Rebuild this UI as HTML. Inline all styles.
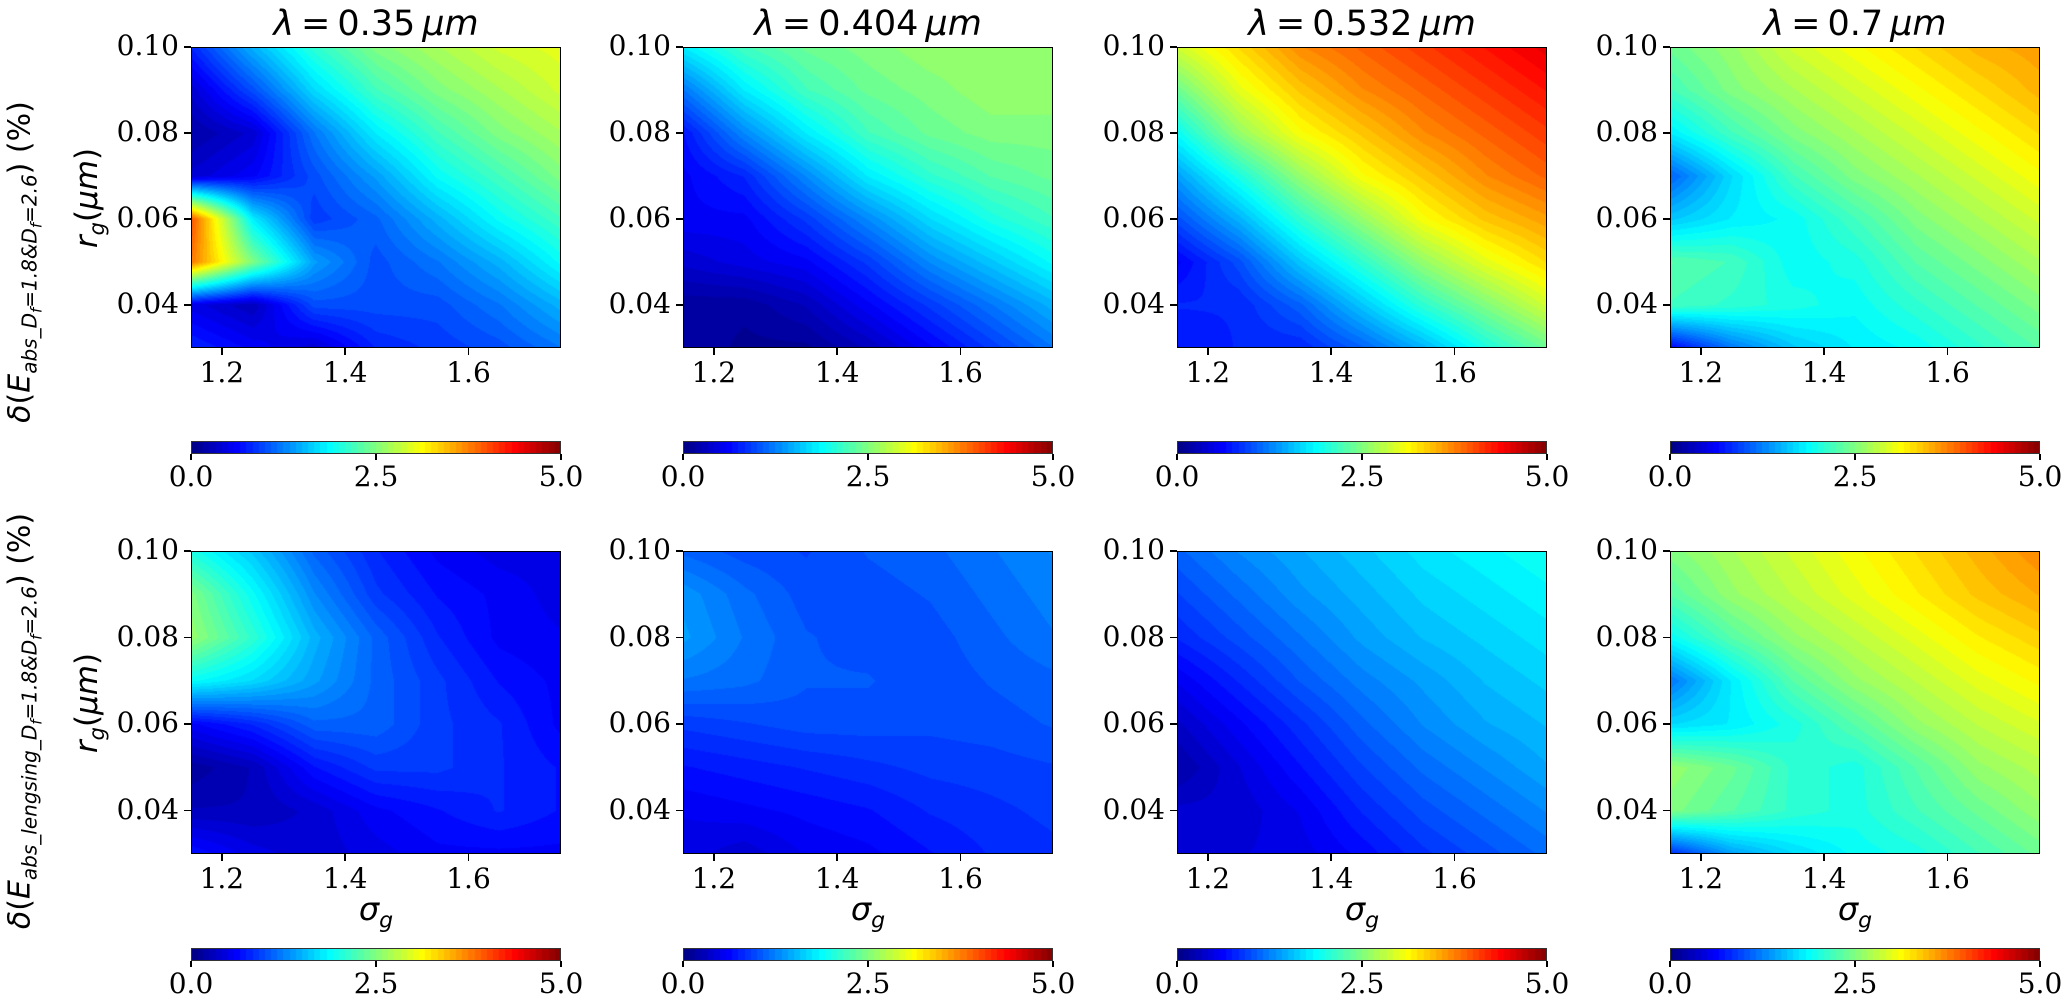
<!DOCTYPE html>
<html><head><meta charset="utf-8"><style>
body{margin:0;background:#fff;}
#root{position:relative;width:2066px;height:998px;overflow:hidden;background:#fff;font-family:"DejaVu Serif",serif;}
.tick{position:absolute;background:#000;}
.tl{position:absolute;font-family:"DejaVu Serif","Liberation Serif",serif;font-size:28px;color:#000;white-space:nowrap;line-height:1;}
.title{position:absolute;font-family:"DejaVu Sans",sans-serif;font-size:35px;white-space:nowrap;line-height:1;transform:translateX(-50%);}
.rot{position:absolute;transform:translate(-50%,-50%) rotate(-90deg);white-space:nowrap;font-family:"DejaVu Sans",sans-serif;line-height:1;}
canvas{position:absolute;}
.frame{position:absolute;border:1.5px solid #000;box-sizing:border-box;}
</style></head><body>
<div id="root"></div>
<script>
// ---- data ----
const sigmaGrid = [1.15, 1.25, 1.35, 1.45, 1.55, 1.65, 1.75];
const rGrid = [0.10, 0.09, 0.08, 0.07, 0.06, 0.05, 0.04, 0.03];
const titles = ["0.35", "0.404", "0.532", "0.7"];
const xTicks = [1.2, 1.4, 1.6];
const xTickLabels = ["1.2", "1.4", "1.6"];
const yTicks = [0.10, 0.08, 0.06, 0.04];
const yTickLabels = ["0.10", "0.08", "0.06", "0.04"];
const cbTicks = [0, 2.5, 5];
const cbTickLabels = ["0.0", "2.5", "5.0"];
const absP1 = [
[0.8,1.5,2.1,2.5,2.7,2.9,3.0],
[0.4,1.0,1.7,2.2,2.5,2.7,2.9],
[0.2,0.4,1.2,1.8,2.2,2.5,2.7],
[0.4,0.6,1.0,1.4,1.9,2.2,2.5],
[4.0,1.8,0.9,1.1,1.5,1.9,2.2],
[3.8,2.5,1.4,1.0,1.2,1.5,1.9],
[0.5,0.3,1.0,1.0,1.0,1.2,1.5],
[0.8,0.6,0.4,0.8,0.9,1.0,1.2]];
const absP2 = [
[1.8,2.2,2.4,2.5,2.6,2.6,2.6],
[1.2,1.8,2.2,2.4,2.5,2.6,2.6],
[0.7,1.3,1.8,2.2,2.4,2.5,2.5],
[0.6,0.8,1.3,1.8,2.1,2.3,2.4],
[0.6,0.6,0.9,1.3,1.7,2.0,2.2],
[0.4,0.5,0.6,0.9,1.3,1.6,1.9],
[0.15,0.15,0.3,0.6,0.9,1.2,1.5],
[0.2,0.1,0.1,0.3,0.6,0.9,1.2]];
const absP3 = [
[2.9,3.3,3.7,3.9,4.1,4.3,4.5],
[2.4,3.0,3.4,3.7,3.9,4.1,4.3],
[1.9,2.6,3.1,3.4,3.7,3.9,4.1],
[1.4,2.0,2.6,3.1,3.4,3.7,3.9],
[1.0,1.5,2.1,2.6,3.1,3.4,3.6],
[0.6,1.0,1.6,2.1,2.6,3.0,3.3],
[0.8,0.8,1.1,1.6,2.1,2.5,2.9],
[0.7,0.8,0.8,1.1,1.5,2.0,2.4]];
const absP4 = [
[2.4,2.6,2.9,3.1,3.3,3.5,3.6],
[2.2,2.5,2.7,2.9,3.1,3.3,3.5],
[1.8,2.2,2.5,2.7,2.9,3.1,3.3],
[1.1,1.7,2.2,2.5,2.7,2.9,3.1],
[1.6,1.8,1.9,2.2,2.5,2.7,2.9],
[2.3,2.2,1.9,2.0,2.3,2.5,2.7],
[2.2,2.1,2.0,1.9,2.1,2.3,2.5],
[0.6,1.2,1.6,1.8,1.9,2.1,2.3]];
const lensP1 = [
[2.0,1.6,1.1,0.8,0.6,0.5,0.5],
[2.5,1.9,1.3,0.9,0.7,0.6,0.5],
[2.6,2.1,1.5,1.1,0.8,0.6,0.55],
[1.9,1.7,1.4,1.1,0.9,0.7,0.6],
[0.6,0.8,1.1,1.1,0.9,0.8,0.6],
[0.15,0.3,0.7,0.9,0.9,0.8,0.7],
[0.3,0.3,0.4,0.6,0.7,0.8,0.7],
[0.7,0.5,0.4,0.5,0.6,0.6,0.6]];
const lensP2 = [
[1.1,1.0,0.95,1.05,1.1,1.2,1.3],
[1.35,1.15,1.0,1.0,1.05,1.15,1.25],
[1.4,1.2,1.05,1.0,1.0,1.1,1.2],
[1.2,1.15,1.05,1.05,0.98,1.05,1.1],
[0.9,0.95,1.0,1.0,0.98,1.0,1.05],
[0.7,0.75,0.8,0.85,0.9,0.92,0.95],
[0.55,0.6,0.65,0.7,0.8,0.85,0.9],
[0.5,0.4,0.55,0.6,0.7,0.8,0.85]];
const lensP3 = [
[1.1,1.3,1.45,1.6,1.75,1.85,1.95],
[0.95,1.15,1.35,1.5,1.65,1.75,1.85],
[0.8,1.0,1.2,1.4,1.55,1.65,1.75],
[0.55,0.8,1.05,1.25,1.4,1.55,1.65],
[0.35,0.6,0.85,1.1,1.3,1.45,1.55],
[0.2,0.45,0.7,0.95,1.15,1.3,1.45],
[0.4,0.4,0.55,0.8,1.0,1.15,1.3],
[0.45,0.45,0.5,0.65,0.85,1.0,1.15]];
const lensP4 = [
[2.5,2.7,2.9,3.1,3.3,3.5,3.7],
[2.3,2.6,2.8,3.0,3.2,3.4,3.55],
[1.9,2.3,2.6,2.8,3.0,3.2,3.35],
[1.2,1.8,2.3,2.6,2.8,3.0,3.15],
[1.7,1.8,2.0,2.3,2.6,2.8,2.95],
[2.6,2.4,2.1,2.0,2.3,2.6,2.75],
[2.5,2.3,2.1,2.0,2.2,2.4,2.6],
[0.8,1.4,1.7,1.9,2.0,2.2,2.4]];

const panelData = [[absP1,absP2,absP3,absP4],[lensP1,lensP2,lensP3,lensP4]];

// ---- layout ----
const colLeft = [191, 683, 1177, 1670];
const axW = 370;
const rowTop = [47, 551], rowBot = [348, 854];
const cbTop = [441, 948], cbH = 13;
const X0 = 1.15, X1 = 1.75, Y0 = 0.03, Y1 = 0.10, VMAX = 5;

const root = document.getElementById('root');
function xScale(c, s){ return colLeft[c] + (s - X0) / (X1 - X0) * axW; }
function yScale(r, v){ return rowBot[r] - (v - Y0) / (Y1 - Y0) * (rowBot[r] - rowTop[r]); }

function jet(v){
  let t = Math.max(0, Math.min(1, v / VMAX));
  function f(x){ return Math.max(0, Math.min(1, 1.5 - Math.abs(4*t - x))); }
  return [f(3)*255, f(2)*255, f(1)*255];
}
function interp(grid, s, rv){
  let fx = (s - sigmaGrid[0]) / (sigmaGrid[1] - sigmaGrid[0]);
  let fy = (rGrid[0] - rv) / (rGrid[0] - rGrid[1]);
  fx = Math.max(0, Math.min(sigmaGrid.length - 1.0001, fx));
  fy = Math.max(0, Math.min(rGrid.length - 1.0001, fy));
  const i = Math.floor(fy), j = Math.floor(fx);
  const a = fx - j, b = fy - i;
  return grid[i][j]*(1-a)*(1-b) + grid[i][j+1]*a*(1-b) + grid[i+1][j]*(1-a)*b + grid[i+1][j+1]*a*b;
}

function div(cls, name, css, html){
  const d = document.createElement('div');
  d.className = cls;
  
  
  Object.assign(d.style, css);
  if (html !== undefined) d.innerHTML = html;
  root.appendChild(d);
  return d;
}

for (let r = 0; r < 2; r++){
  for (let c = 0; c < 4; c++){
    const L = colLeft[c], T = rowTop[r], H = rowBot[r] - rowTop[r];
    const cv = document.createElement('canvas');
    
    
    cv.width = axW; cv.height = H;
    cv.style.left = L + 'px'; cv.style.top = T + 'px';
    root.appendChild(cv);
    const ctx = cv.getContext('2d');
    const img = ctx.createImageData(axW, H);
    const grid = panelData[r][c];
    for (let py = 0; py < H; py++){
      const rv = Y1 - (py + 0.5) / H * (Y1 - Y0);
      for (let px = 0; px < axW; px++){
        const s = X0 + (px + 0.5) / axW * (X1 - X0);
        let v = interp(grid, s, rv);
        v = Math.round(v * 12) / 12;
        const col = jet(v);
        const k = (py * axW + px) * 4;
        img.data[k] = col[0]; img.data[k+1] = col[1]; img.data[k+2] = col[2]; img.data[k+3] = 255;
      }
    }
    ctx.putImageData(img, 0, 0);
    div('frame', 'axes-frame', {left: L + 'px', top: T + 'px', width: axW + 'px', height: H + 'px'});
    xTicks.forEach((t, i) => {
      const x = xScale(c, t);
      div('tick', 'x-tick', {left: (x - 0.75) + 'px', top: rowBot[r] + 'px', width: '1.5px', height: '7px'});
      div('tl', 'x-tick-label', {left: (x - 40) + 'px', width: '80px', textAlign: 'center', top: (rowBot[r] + 11) + 'px'}, xTickLabels[i]);
    });
    yTicks.forEach((t, i) => {
      const y = yScale(r, t);
      div('tick', 'y-tick', {left: (L - 7) + 'px', top: (y - 0.75) + 'px', width: '7px', height: '1.5px'});
      div('tl', 'y-tick-label', {left: (L - 112) + 'px', width: '100px', textAlign: 'right', top: (y - 15) + 'px'}, yTickLabels[i]);
    });
    if (r === 0){
      div('title', 'panel-title', {left: (L + axW/2) + 'px', top: '7px'}, '<i>λ</i>&thinsp;=&thinsp;' + titles[c] + '&thinsp;<i>μm</i>');
    } else {
      div('title', 'x-axis-title', {left: (L + axW/2) + 'px', top: '893px', fontSize: '32px'}, '<i>σ<sub style="font-size:22px">g</sub></i>');
    }
    const cb = document.createElement('canvas');
    
    
    cb.width = axW; cb.height = cbH;
    cb.style.left = L + 'px'; cb.style.top = cbTop[r] + 'px';
    root.appendChild(cb);
    const cctx = cb.getContext('2d');
    for (let px = 0; px < axW; px++){
      let v = (px + 0.5) / axW * VMAX;
      v = Math.floor(v * 12) / 12 + 1/24;
      const col = jet(v);
      cctx.fillStyle = 'rgb(' + col.map(Math.round).join(',') + ')';
      cctx.fillRect(px, 0, 1, cbH);
    }
    div('frame', 'colorbar-frame', {left: L + 'px', top: cbTop[r] + 'px', width: axW + 'px', height: cbH + 'px', borderWidth: '1px', borderColor: '#333'});
    cbTicks.forEach((t, i) => {
      const x = L + t / VMAX * axW;
      div('tick', 'colorbar-tick', {left: (x - 0.75) + 'px', top: (cbTop[r] + cbH) + 'px', width: '1.5px', height: '6px'});
      div('tl', 'colorbar-tick-label', {left: (x - 50) + 'px', width: '100px', textAlign: 'center', top: (cbTop[r] + cbH + 9) + 'px'}, cbTickLabels[i]);
    });
  }
  div('rot', 'y-axis-title', {left: '90px', top: ((rowTop[r] + rowBot[r]) / 2) + 'px', fontSize: '31px'}, '<i>r<sub style="font-size:21px">g</sub></i>(<i>μm</i>)');
}
div('rot', 'row1-quantity-label', {left: '25px', top: '262px', fontSize: '30px'}, '<i>δ</i>(<i>E<sub style="font-size:20px">abs_D<sub style="font-size:15px">f</sub>=1.8&amp;D<sub style="font-size:15px">f</sub>=2.6</sub></i>) (%)');
div('rot', 'row2-quantity-label', {left: '25px', top: '721px', fontSize: '30px'}, '<i>δ</i>(<i>E<sub style="font-size:20px">abs_lengsing_D<sub style="font-size:15px">f</sub>=1.8&amp;D<sub style="font-size:15px">f</sub>=2.6</sub></i>) (%)');
</script>
</body></html>
